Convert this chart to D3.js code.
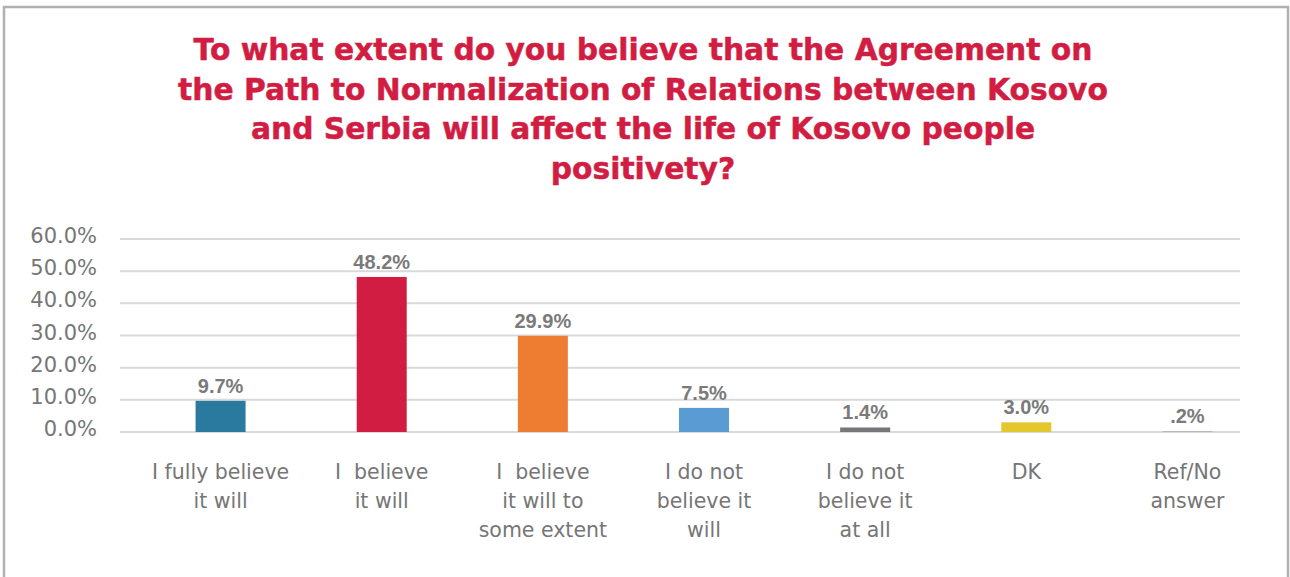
<!DOCTYPE html>
<html>
<head>
<meta charset="utf-8">
<script src="https://cdn.jsdelivr.net/npm/d3@7"></script>
<style>
  html, body { margin: 0; padding: 0; background: #fff; }
  svg { display: block; }
</style>
</head>
<body>
<svg id="chart" width="1290" height="577"></svg>
<script>
// Survey answers and shares (percent)
const categories = [
  ["I fully believe", "it will"],
  ["I  believe", "it will"],
  ["I  believe", "it will to", "some extent"],
  ["I do not", "believe it", "will"],
  ["I do not", "believe it", "at all"],
  ["DK"],
  ["Ref/No", "answer"]
];
const values = [9.7, 48.2, 29.9, 7.5, 1.4, 3.0, 0.2];
const valueLabels = ["9.7%", "48.2%", "29.9%", "7.5%", "1.4%", "3.0%", ".2%"];
const barColors = ["#2a7a9f", "#d11d42", "#ee7d32", "#5b9bd4", "#767577", "#e3c72d", "#a5a5a5"];
const yTicks = [0, 10, 20, 30, 40, 50, 60];
const titleLines = [
  "To what extent do you believe that the Agreement on",
  "the Path to Normalization of Relations between Kosovo",
  "and Serbia will affect the life of Kosovo people",
  "positivety?"
];

const svg = d3.select("#chart");

// outer frame
svg.append("rect")
  .attr("x", 4).attr("y", 7)
  .attr("width", 1284).attr("height", 580)
  .attr("fill", "#fff")
  .attr("stroke", "#b1b1b1").attr("stroke-width", 2.5);

// title
const titleFont = "'DejaVu Sans', 'Open Sans', sans-serif";
const tl = svg.append("g").selectAll("text").data(titleLines).join("text")
  .attr("x", 643)
  .attr("y", (d, i) => 60 + i * 39.5)
  .attr("text-anchor", "middle")
  .attr("font-family", titleFont)
  .attr("font-weight", "bold")
  .attr("font-size", 28)
  .attr("fill", "#d11d42")
  .attr("stroke", "#d11d42").attr("stroke-width", 0.5)
  .text(d => d);
// size the title so the widest line spans the intended width
const w2 = tl.nodes()[1].getComputedTextLength();
tl.attr("font-size", 28 * 930 / w2);

// scales
const x = d3.scaleBand()
  .domain(d3.range(categories.length))
  .range([140, 1268])
  .padding(0);
const y = d3.scaleLinear().domain([0, 60]).range([432, 239]);
const barW = 50;

// gridlines
svg.append("g").selectAll("line").data(yTicks).join("line")
  .attr("x1", 120).attr("x2", 1240)
  .attr("y1", d => y(d)).attr("y2", d => y(d))
  .attr("stroke", "#d9d9d9").attr("stroke-width", 2);

// y axis labels
const labelFont = "'DejaVu Sans', 'Noto Sans', sans-serif";
svg.append("g").selectAll("text").data(yTicks).join("text")
  .attr("x", 97)
  .attr("y", d => y(d) + 4)
  .attr("text-anchor", "end")
  .attr("font-family", labelFont)
  .attr("font-size", 21)
  .attr("fill", "#767676")
  .text(d => d3.format(".1f")(d) + "%");

// bars
const cx = i => x(i) + x.bandwidth() / 2;
svg.append("g").selectAll("rect").data(values).join("rect")
  .attr("x", (d, i) => cx(i) - barW / 2)
  .attr("y", d => y(d))
  .attr("width", barW)
  .attr("height", d => y(0) - y(d))
  .attr("fill", (d, i) => barColors[i]);

// value labels
svg.append("g").selectAll("text").data(values).join("text")
  .attr("x", (d, i) => cx(i))
  .attr("y", d => y(d) - 8)
  .attr("text-anchor", "middle")
  .attr("font-family", "'Liberation Sans', Arial, sans-serif")
  .attr("font-weight", "bold")
  .attr("font-size", 20)
  .attr("fill", "#7a7a7a")
  .text((d, i) => valueLabels[i]);

// category labels (keep the double spaces)
const cat = svg.append("g").selectAll("text").data(categories).join("text")
  .attr("text-anchor", "middle")
  .attr("font-family", labelFont)
  .attr("font-size", 20.5)
  .attr("fill", "#767676")
  .style("white-space", "pre");
cat.each(function (lines, i) {
  d3.select(this).selectAll("tspan").data(lines).join("tspan")
    .attr("x", cx(i))
    .attr("y", (d, j) => 479 + j * 29)
    .text(d => d);
});
</script>
</body>
</html>
